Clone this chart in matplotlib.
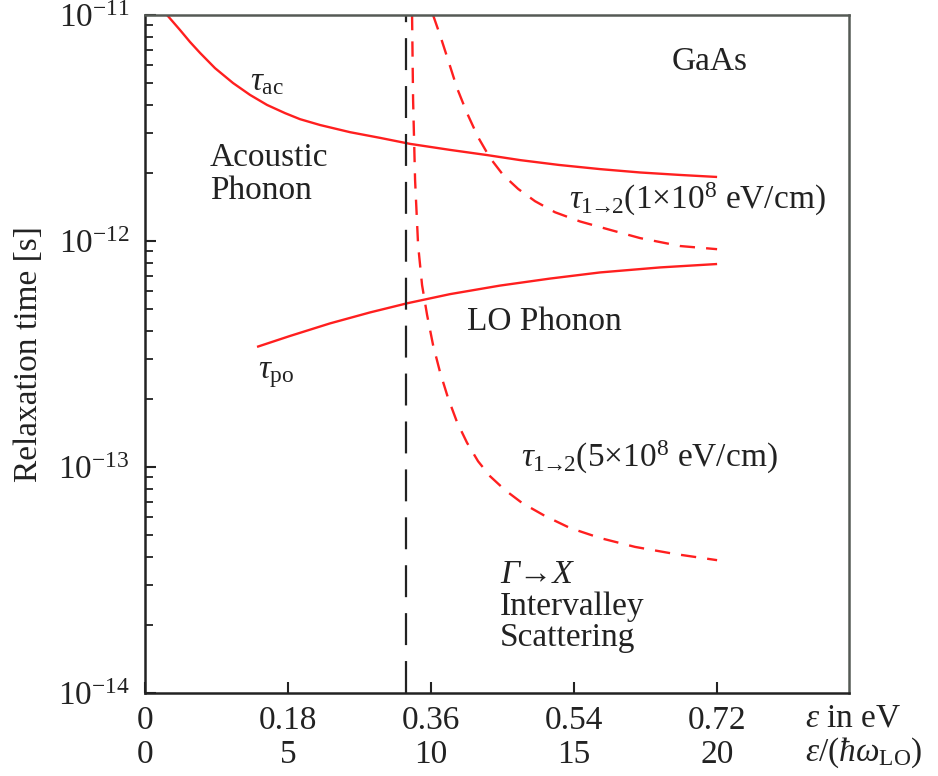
import matplotlib
matplotlib.use("Agg")
import matplotlib.pyplot as plt
from matplotlib.ticker import LogLocator, NullFormatter

plt.rcParams['font.family'] = ['Liberation Serif', 'DejaVu Serif']
plt.rcParams['mathtext.fontset'] = 'custom'
plt.rcParams['mathtext.rm'] = 'Liberation Serif'
plt.rcParams['mathtext.it'] = 'Liberation Serif:italic'
plt.rcParams['mathtext.bf'] = 'Liberation Serif:bold'
plt.rcParams['lines.scale_dashes'] = False

# ---------------- data ----------------
ac_eV = [0.0277, 0.0441, 0.0566, 0.0692, 0.0881, 0.1108, 0.1322, 0.1536, 0.1762, 0.1951, 0.2203,
         0.2581, 0.2958, 0.3336, 0.3839, 0.4305, 0.4721, 0.5211, 0.5728, 0.6231, 0.6735, 0.72]
ac_tau = [1.00e-11, 8.58e-12, 7.60e-12, 6.80e-12, 5.82e-12, 5.00e-12, 4.43e-12, 4.00e-12, 3.68e-12,
          3.46e-12, 3.26e-12, 3.03e-12, 2.86e-12, 2.69e-12, 2.53e-12, 2.40e-12, 2.28e-12, 2.17e-12,
          2.08e-12, 2.01e-12, 1.96e-12, 1.92e-12]

po_eV = [0.1410, 0.1825, 0.2329, 0.2832, 0.3298, 0.3839, 0.4469, 0.5098, 0.5728, 0.6483, 0.72]
po_tau = [3.40e-13, 3.80e-13, 4.32e-13, 4.83e-13, 5.30e-13, 5.82e-13, 6.35e-13, 6.82e-13, 7.26e-13,
          7.64e-13, 7.91e-13]

iv1_eV = [0.3625, 0.3713, 0.3814, 0.3927, 0.4053, 0.4192, 0.4343, 0.4507, 0.4696, 0.4909, 0.5161,
          0.5476, 0.5854, 0.6231, 0.6735, 0.72]
iv1_tau = [1.0e-11, 8.15e-12, 6.33e-12, 4.75e-12, 3.68e-12, 2.88e-12, 2.33e-12, 1.96e-12, 1.70e-12,
           1.50e-12, 1.34e-12, 1.22e-12, 1.12e-12, 1.03e-12, 9.5e-13, 9.2e-13]

iv5_eV = [0.3361, 0.3374, 0.3399, 0.3437, 0.3487, 0.3550, 0.3625, 0.3713, 0.3814, 0.3927, 0.4053,
          0.4192, 0.4343, 0.4532, 0.4746, 0.5035, 0.5350, 0.5728, 0.6168, 0.6672, 0.72]
iv5_tau = [1.0e-11, 4.21e-12, 1.86e-12, 9.6e-13, 6.38e-13, 4.71e-13, 3.47e-13, 2.63e-13, 2.02e-13,
           1.58e-13, 1.28e-13, 1.06e-13, 9.1e-14, 7.9e-14, 6.93e-14, 6.07e-14, 5.37e-14, 4.85e-14,
           4.43e-14, 4.12e-14, 3.87e-14]

threshold_eV = 0.3285

x_ticks_eV = [0, 0.18, 0.36, 0.54, 0.72]
x_ticks_eV_labels = ['0', '0.18', '0.36', '0.54', '0.72']
x_ticks_hw_labels = ['0', '5', '10', '15', '20']
y_ticks = [1e-14, 1e-13, 1e-12, 1e-11]
y_tick_labels = [r'10$^{-14}$', r'10$^{-13}$', r'10$^{-12}$', r'10$^{-11}$']

# ---------------- figure ----------------
W, H = 938, 776
fig = plt.figure(figsize=(W / 100, H / 100), dpi=100)
ax = fig.add_axes([145 / W, 1 - 693 / H, (849 - 145) / W, (693 - 15) / H])

red = '#ff1f1f'
fs = 24

ax.plot(ac_eV, ac_tau, color=red, lw=1.7, solid_capstyle='butt', solid_joinstyle='round')
ax.plot(po_eV, po_tau, color=red, lw=1.7, solid_capstyle='butt', solid_joinstyle='round')
ax.plot(iv1_eV, iv1_tau, color=red, lw=1.7, dashes=(11, 8))
ax.plot(iv5_eV, iv5_tau, color=red, lw=1.7, dashes=(11, 8))
ax.axvline(threshold_eV, color='#222222', lw=1.6, dashes=(23, 11.5))

ax.set_yscale('log')
ax.set_xlim(0, 0.886)
ax.set_ylim(1e-14, 1e-11)

ax.set_yticks(y_ticks)
ax.set_yticklabels(y_tick_labels)
ax.yaxis.set_minor_locator(LogLocator(base=10, subs=range(2, 10)))
ax.yaxis.set_minor_formatter(NullFormatter())

ax.set_xticks(x_ticks_eV)
ax.set_xticklabels([a + '\n' + b for a, b in zip(x_ticks_eV_labels, x_ticks_hw_labels)])
for lbl in ax.get_xticklabels():
    lbl.set_linespacing(1.15)

ax.tick_params(axis='both', which='major', direction='in', length=8, width=1.5,
               labelsize=fs, colors='#222222')
ax.tick_params(axis='y', which='minor', direction='in', length=6, width=1.3, colors='#222222')
ax.tick_params(axis='x', which='major', pad=9)
ax.tick_params(axis='y', which='major', pad=11)
ax.tick_params(top=False, right=False, which='both')

for side in ['left', 'bottom']:
    ax.spines[side].set_color('#222222')
    ax.spines[side].set_linewidth(1.8)
for side in ['top', 'right']:
    ax.spines[side].set_color('#555a55')
    ax.spines[side].set_linewidth(1.8)

ax.set_ylabel('Relaxation time [s]', fontsize=fs, color='#222222', labelpad=10)

# annotations
tc = '#222222'
ax.text(0.132, 5.06e-12, r'$\tau_{\mathrm{ac}}$', fontsize=fs, color=tc, va='center', ha='left')
ax.text(0.0818, 1.98e-12, 'Acoustic\nPhonon', fontsize=fs, color=tc, va='center', ha='left', linespacing=1.1)
ax.text(0.663, 6.2e-12, 'GaAs', fontsize=fs, color=tc, va='center', ha='left')
ax.text(0.534, 1.52e-12, r'$\tau_{1\!\!\rightarrow\!\!2}$(1×10$^8$ eV/cm)', fontsize=fs, color=tc, va='center', ha='left')
ax.text(0.405, 4.39e-13, 'LO Phonon', fontsize=fs, color=tc, va='center', ha='left')
ax.text(0.142, 2.55e-13, r'$\tau_{\mathrm{po}}$', fontsize=fs, color=tc, va='center', ha='left')
ax.text(0.473, 1.107e-13, r'$\tau_{1\!\!\rightarrow\!\!2}$(5×10$^8$ eV/cm)', fontsize=fs, color=tc, va='center', ha='left')
ax.text(0.447, 3.33e-14, 'Γ→X', fontsize=fs, color=tc, va='center', ha='left', fontstyle='italic')
ax.text(0.447, 2.40e-14, 'Intervalley', fontsize=fs, color=tc, va='center', ha='left')
ax.text(0.447, 1.75e-14, 'Scattering', fontsize=fs, color=tc, va='center', ha='left')

fig.text(805 / W, 1 - 718 / H, r'$\varepsilon$ in eV', fontsize=fs, color=tc, va='center', ha='left')
fig.text(805 / W, 1 - 753 / H, r'$\varepsilon$/($\hbar\omega_{\mathrm{LO}}$)', fontsize=fs, color=tc, va='center', ha='left')

fig.savefig('out.png', dpi=100)
